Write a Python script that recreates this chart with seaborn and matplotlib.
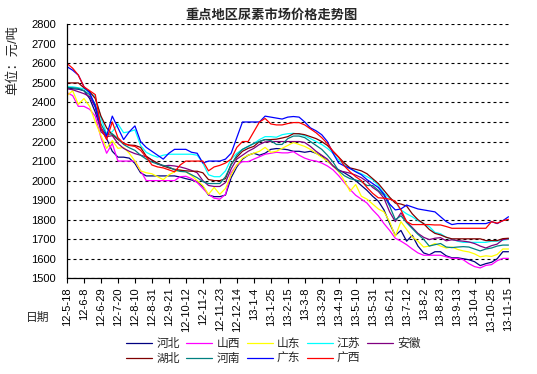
"""Urea price trend in key regions, weekly, 2012-05 to 2013-11."""

import matplotlib
matplotlib.use("Agg")
import matplotlib.pyplot as plt
from matplotlib.lines import Line2D
import pandas as pd
import seaborn as sns

# %% data (yuan / tonne, weekly)
dates = pd.date_range("2012-05-18", periods=79, freq="7D")

tick_labels = ["12-5-18", "12-6-8", "12-6-29", "12-7-20", "12-8-10", "12-8-31",
               "12-9-21", "12-10-12", "12-11-2", "12-11-23", "12-12-14", "13-1-4",
               "13-1-25", "13-2-15", "13-3-8", "13-3-29", "13-4-19", "13-5-10",
               "13-5-31", "13-6-21", "13-7-12", "13-8-2", "13-8-23", "13-9-13",
               "13-10-4", "13-10-25", "13-11-15"]

hebei = [2475, 2470, 2468, 2460, 2420, 2350, 2265, 2215, 2150, 2120,
         2120, 2115, 2088, 2040, 2024, 2024, 2024, 2024, 2024, 2024,
         2018, 2010, 2003, 1995, 1970, 1926, 1918, 1918, 1926, 2015,
         2070, 2110, 2130, 2140, 2130, 2140, 2160, 2164, 2162, 2158,
         2150, 2150, 2145, 2150, 2140, 2125, 2100, 2075, 2055, 2040,
         2022, 2000, 1975, 1950, 1920, 1895, 1850, 1780, 1720, 1745,
         1690, 1720, 1665, 1630, 1620, 1636, 1636, 1615, 1605, 1605,
         1600, 1595, 1585, 1565, 1575, 1582, 1600, 1636, 1636]

shanxi = [2450, 2435, 2380, 2380, 2365, 2330, 2220, 2140, 2190, 2100,
          2100, 2100, 2100, 2050, 2000, 2000, 2000, 2000, 2000, 2000,
          2020, 2022, 2010, 1990, 1960, 1930, 1910, 1905, 1930, 2040,
          2080, 2097, 2097, 2110, 2122, 2135, 2140, 2145, 2142, 2142,
          2148, 2130, 2115, 2105, 2100, 2090, 2075, 2055, 2025, 1990,
          1955, 1925, 1905, 1885, 1850, 1820, 1780, 1745, 1705, 1690,
          1672, 1650, 1630, 1618, 1618, 1618, 1618, 1610, 1602, 1602,
          1595, 1575, 1560, 1553, 1566, 1570, 1590, 1602, 1602]

shandong = [2435, 2460, 2390, 2420, 2380, 2300, 2230, 2165, 2205, 2165,
            2170, 2140, 2100, 2050, 2040, 2035, 2020, 2005, 2030, 2045,
            2055, 2045, 2025, 2000, 1975, 1930, 1965, 1930, 1960, 2030,
            2080, 2115, 2130, 2140, 2150, 2170, 2145, 2150, 2165, 2180,
            2195, 2185, 2175, 2160, 2140, 2120, 2100, 2075, 2045, 2000,
            1945, 1980, 1920, 1905, 1880, 1855, 1840, 1790, 1715, 1790,
            1750, 1712, 1690, 1660, 1665, 1678, 1665, 1655, 1660, 1648,
            1640, 1635, 1625, 1610, 1615, 1612, 1622, 1650, 1650]

jiangsu = [2480, 2480, 2475, 2470, 2450, 2430, 2320, 2240, 2250, 2290,
           2245, 2250, 2260, 2180, 2145, 2130, 2120, 2130, 2135, 2135,
           2135, 2135, 2135, 2130, 2090, 2030, 2020, 2020, 2050, 2110,
           2140, 2160, 2175, 2190, 2210, 2225, 2225, 2222, 2235, 2240,
           2242, 2238, 2230, 2215, 2200, 2185, 2165, 2140, 2105, 2080,
           2062, 2048, 2035, 2020, 2005, 1975, 1935, 1910, 1890, 1850,
           1830, 1815, 1795, 1780, 1765, 1735, 1728, 1710, 1700, 1690,
           1684, 1684, 1684, 1684, 1684, 1690, 1690, 1695, 1700]

anhui = [2470, 2465, 2455, 2445, 2430, 2375, 2250, 2225, 2230, 2190,
         2165, 2150, 2138, 2130, 2122, 2105, 2085, 2075, 2078, 2075,
         2070, 2062, 2052, 2040, 2000, 1975, 1970, 1970, 1990, 2060,
         2110, 2130, 2150, 2165, 2185, 2198, 2200, 2200, 2200, 2200,
         2200, 2200, 2195, 2175, 2150, 2130, 2110, 2075, 2050, 2045,
         2038, 2028, 2015, 1995, 1965, 1945, 1910, 1840, 1790, 1835,
         1790, 1760, 1730, 1710, 1698, 1705, 1708, 1692, 1697, 1693,
         1690, 1686, 1678, 1665, 1655, 1667, 1675, 1698, 1702]

hubei = [2500, 2500, 2500, 2475, 2455, 2420, 2330, 2270, 2235, 2210,
         2190, 2182, 2180, 2170, 2125, 2105, 2090, 2075, 2065, 2058,
         2053, 2050, 2048, 2048, 2040, 2005, 2000, 2000, 2010, 2085,
         2120, 2150, 2165, 2175, 2200, 2210, 2210, 2212, 2218, 2225,
         2240, 2240, 2235, 2225, 2215, 2200, 2180, 2150, 2120, 2090,
         2065, 2058, 2050, 2035, 2010, 1985, 1950, 1915, 1885, 1880,
         1870, 1830, 1800, 1780, 1750, 1730, 1722, 1710, 1702, 1702,
         1702, 1702, 1702, 1702, 1693, 1693, 1693, 1703, 1705]

henan = [2477, 2475, 2472, 2460, 2440, 2390, 2290, 2235, 2240, 2215,
         2185, 2168, 2155, 2130, 2110, 2095, 2085, 2078, 2070, 2055,
         2047, 2045, 2030, 2015, 1995, 1985, 1985, 1985, 2020, 2080,
         2130, 2160, 2175, 2190, 2200, 2210, 2205, 2185, 2185, 2215,
         2228, 2228, 2220, 2200, 2180, 2160, 2130, 2095, 2050, 2025,
         2010, 2003, 1995, 1975, 1975, 1950, 1925, 1870, 1800, 1820,
         1785, 1755, 1725, 1700, 1665, 1672, 1678, 1660, 1657, 1660,
         1662, 1660, 1650, 1640, 1650, 1655, 1665, 1670, 1670]

guangdong = [2583, 2565, 2540, 2480, 2450, 2380, 2270, 2230, 2330, 2270,
             2210, 2250, 2280, 2200, 2170, 2150, 2130, 2110, 2140, 2160,
             2160, 2160, 2145, 2140, 2090, 2100, 2100, 2100, 2110, 2140,
             2220, 2300, 2300, 2300, 2300, 2330, 2325, 2320, 2315, 2325,
             2328, 2325, 2300, 2270, 2255, 2235, 2200, 2140, 2090, 2075,
             2062, 2045, 2030, 2005, 1985, 1965, 1930, 1880, 1850, 1855,
             1875, 1865, 1855, 1850, 1845, 1840, 1815, 1790, 1775, 1780,
             1780, 1780, 1780, 1780, 1780, 1790, 1780, 1795, 1815]

guangxi = [2600, 2575, 2540, 2480, 2460, 2440, 2270, 2210, 2300, 2220,
           2190, 2180, 2175, 2155, 2120, 2080, 2070, 2065, 2055, 2045,
           2080, 2100, 2100, 2100, 2100, 2050, 2070, 2078, 2090, 2110,
           2170, 2200, 2200, 2250, 2300, 2318, 2290, 2285, 2285, 2292,
           2297, 2297, 2285, 2265, 2245, 2220, 2190, 2150, 2120, 2075,
           2045, 2020, 2000, 1965, 1935, 1912, 1910, 1905, 1895, 1850,
           1790, 1775, 1775, 1775, 1775, 1773, 1773, 1765, 1756, 1756,
           1756, 1756, 1756, 1756, 1756, 1790, 1782, 1795, 1802]

provinces = ["河北", "山西", "山东", "江苏", "安徽", "湖北", "河南", "广东", "广西"]
colors = ["#000080", "#FF00FF", "#FFFF00", "#00FFFF", "#800080",
          "#800000", "#008080", "#0000FF", "#FF0000"]

wide = pd.DataFrame({"date": dates, "河北": hebei, "山西": shanxi, "山东": shandong,
                     "江苏": jiangsu, "安徽": anhui, "湖北": hubei, "河南": henan,
                     "广东": guangdong, "广西": guangxi})
df = wide.melt(id_vars="date", var_name="province", value_name="price")
palette = dict(zip(provinces, colors))

# %% style
sns.set_theme(style="white")
plt.rcParams["font.family"] = ["Liberation Sans", "Noto Sans CJK SC"]
plt.rcParams["axes.unicode_minus"] = False

W, H = 537, 374
fig = plt.figure(figsize=(W / 100, H / 100), dpi=100)
ax = fig.add_axes([67 / W, 1 - 278.3 / H, 441.5 / W, 254 / H])

sns.lineplot(data=df, x="date", y="price", hue="province", hue_order=provinces,
             palette=palette, linewidth=0.9, legend=False, ax=ax)

ax.set_xlim(dates[0], dates[-1])
ax.set_ylim(1500, 2800)
ax.set_yticks(range(1500, 2801, 100))
ax.set_xticks(dates[::3])
ax.set_xticklabels(tick_labels, rotation=90)
ax.set_xlabel("")
ax.set_ylabel("")

ax.yaxis.grid(True, color="black", linestyle=(0, (2.7, 2.7)), linewidth=0.8)
ax.xaxis.grid(False)
for side in ["top", "right"]:
    ax.spines[side].set_visible(False)
for side in ["left", "bottom"]:
    ax.spines[side].set_color("black")
    ax.spines[side].set_linewidth(0.9)

ax.tick_params(axis="y", length=0, pad=8, labelsize=8, colors="black")
ax.tick_params(axis="x", bottom=True, length=3.5, width=0.8, direction="out",
               pad=3, labelsize=8, colors="black")

fig.text(0.505, 1 - 15 / H, "重点地区尿素市场价格走势图", fontsize=9.5,
         fontweight="bold", ha="center", va="center")
fig.text(13 / W, 1 - 60 / H, "单位：元/吨", rotation=90, fontsize=9.5,
         ha="center", va="center")
fig.text(38 / W, 1 - 318 / H, "日期", fontsize=8.5, ha="center", va="center")

# legend reads row-wise: reorder for matplotlib's column-major fill
order = ["河北", "湖北", "山西", "河南", "山东", "广东", "江苏", "广西", "安徽"]
handles = [Line2D([], [], color=palette[p], linewidth=0.9) for p in order]
fig.legend(handles, order, loc="center", bbox_to_anchor=(0.509, 1 - 351.5 / H),
           ncol=5, frameon=False, fontsize=8.5, handlelength=2.2,
           handletextpad=0.35, columnspacing=0.55, labelspacing=0.3,
           borderpad=0)

fig.savefig("out.png", dpi=100)
